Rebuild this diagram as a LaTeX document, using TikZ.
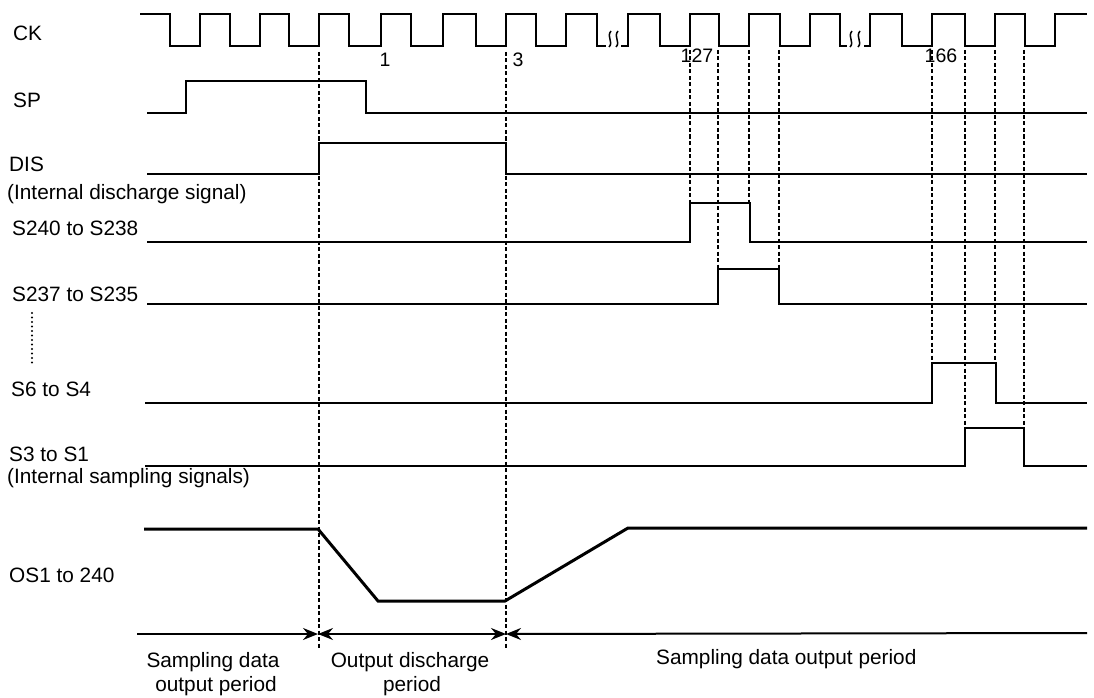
\documentclass[tikz,border=0pt]{standalone}
\usepackage{fontspec}
\setmainfont{Liberation Sans}
\usetikzlibrary{arrows.meta}

\begin{document}
\begin{tikzpicture}[x=1pt,y=-1pt,
        sig/.style={line width=2.6pt},
        guide/.style={line width=1.1pt, dash pattern=on 4pt off 2.5pt},
        brkmark/.style={line width=1.5pt},
        period/.style={line width=2pt},
        lbl/.style={anchor=base west, inner sep=0pt, font=\fontsize{20.8}{24}\selectfont},
        txt/.style={anchor=base, inner sep=0pt, font=\fontsize{20.8}{24}\selectfont},
        num/.style={anchor=base, inner sep=0pt, font=\fontsize{19.5}{22}\selectfont},
        tip/.tip={Stealth[length=15pt,width=12pt,inset=5pt]}]
    \useasboundingbox (0,0) rectangle (1094,698);

    % signal names
    \node[lbl] (nCK) at (13,41) {CK};
    \node[lbl] (nSP) at (13,107) {SP};
    \node[lbl] (nDIS) at (9,171) {DIS};
    \node[lbl] (nDISi) at (7,199) {(Internal discharge signal)};
    \node[lbl] (nSa) at (12,235) {S240 to S238};
    \node[lbl] (nSb) at (12,301) {S237 to S235};
    \node[lbl] (nSc) at (11,396) {S6 to S4};
    \node[lbl] (nSd) at (9,461) {S3 to S1};
    \node[lbl] (nSdi) at (7,483) {(Internal sampling signals)};
    \node[lbl] (nOS) at (9,582) {OS1 to 240};
    \draw[line width=2.4pt, line cap=round, dash pattern=on 0pt off 4.5pt] (32,313) -- (32,367);

    % clock
    \draw[sig] (140,14) -| (170,46) -| (200,14) -| (230,46) -| (260,14) -| (289,46)
        -| (319,14) -| (349,46) -| (381,14) -| (411,46) -| (443,14) -| (476,46)
        -| (506,14) -| (536,46) -| (566,14) -| (597,46) -- (606,46);
    \draw[sig] (621,46) -| (628,14) -| (660,46) -| (690,14) -| (719,46) -| (749,14)
        -| (780,46) -| (810,14) -| (840,46) -- (847,46);
    \draw[sig] (864,46) -| (870,14) -| (902,46) -| (932,14) -| (965,46) -| (995,14)
        -| (1025,46) -| (1055,14) -- (1087,14);
    \foreach \x in {610,617,851,859}
        \draw[brkmark] (\x-1,47) .. controls (\x+4,42) and (\x-4,37) .. (\x+1,31);

    \node[num] (k1) at (385,67) {1};
    \node[num] (k3) at (518,67) {3};

    % timing guides
    \draw[guide] (319,52) -- (319,648);
    \draw[guide] (506,52) -- (506,648);
    \foreach \x/\y in {690/203, 749/203, 718/269, 779/269, 932/363, 995/363, 965/428, 1024/428}
        \draw[guide] (\x,50) -- (\x,\y);

    \node[num, fill=white, inner sep=0.5pt] (k127) at (697,63) {127};
    \node[num, fill=white, inner sep=0.5pt] (k166) at (941,63) {166};
    \draw[guide] (690,50) -- (690,66);
    \draw[guide] (932,50) -- (932,66);

    % waveforms
    \draw[sig] (147,113) -| (186,81) -| (366,113) -- (1087,113);
    \draw[sig] (147,174) -| (319,143) -| (506,174) -- (1087,174);
    \draw[sig] (147,242) -| (690,203) -| (750,242) -- (1087,242);
    \draw[sig] (147,304) -| (718,269) -| (779,304) -- (1087,304);
    \draw[sig] (145,403) -| (932,363) -| (996,403) -- (1087,403);
    \draw[sig] (145,466) -| (965,428) -| (1024,466) -- (1087,466);
    \draw[sig, line width=3pt] (144,529) -- (318,529) -- (378,601) -- (505,601)
        -- (628,528) -- (1087,528);

    % periods
    \coordinate (p0) at (137,634);
    \coordinate (p1) at (318,634);
    \coordinate (p2) at (506,634);
    \coordinate (p3) at (1087,633);
    \draw[period, -tip] (p0) -- (p1);
    \draw[period, tip-tip] (p1) -- (p2);
    \draw[period, tip-] (p2) -- (p3);

    \node[txt] (q1a) at (213,667) {Sampling data};
    \node[txt] (q1b) at (216,691) {output period};
    \node[txt] (q2a) at (410,667) {Output discharge};
    \node[txt] (q2b) at (412,691) {period};
    \node[lbl] (q3) at (656,664) {Sampling data output period};
\end{tikzpicture}
\end{document}
